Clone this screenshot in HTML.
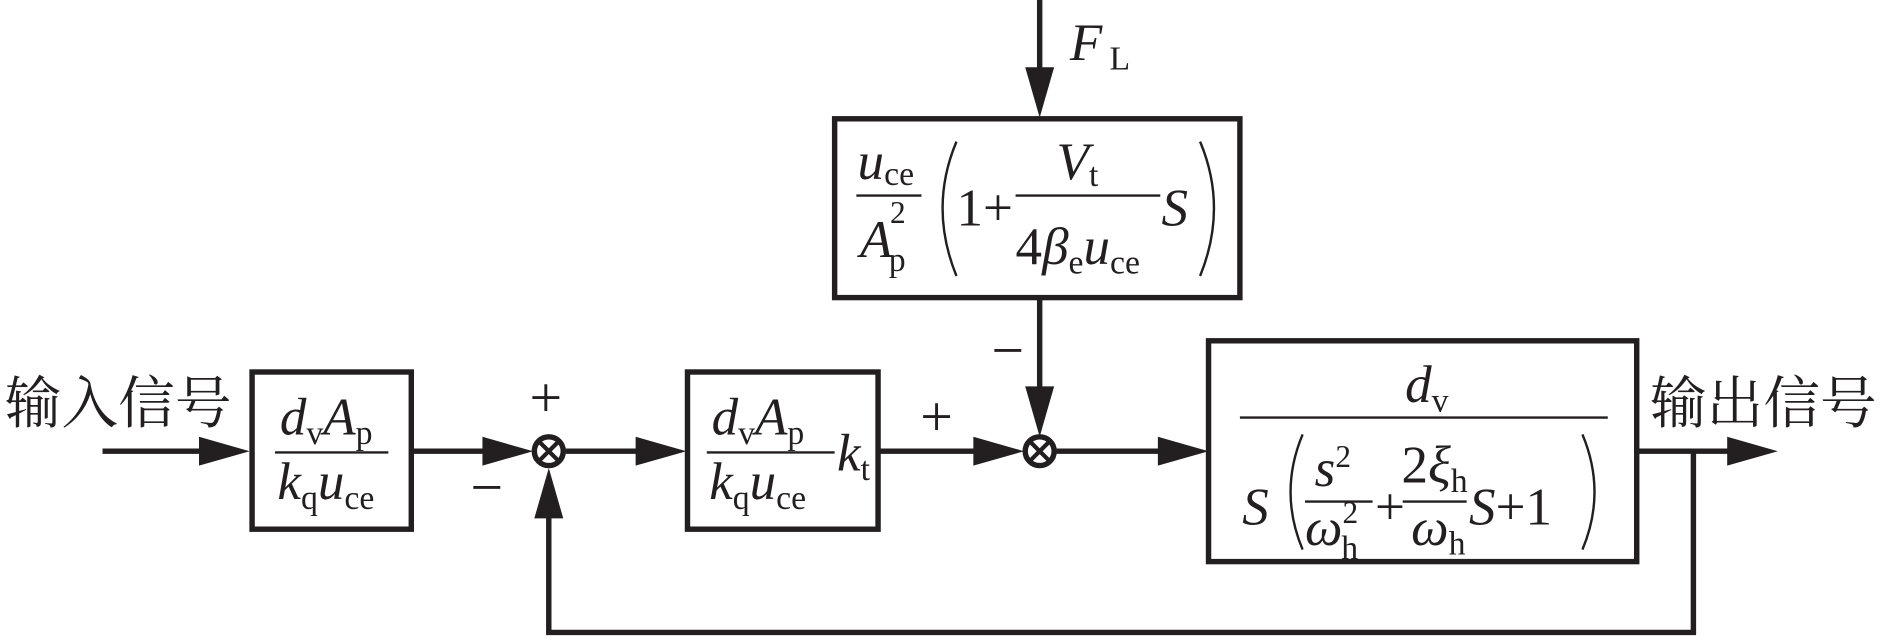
<!DOCTYPE html>
<html><head><meta charset="utf-8"><style>
html,body{margin:0;padding:0;background:#fff;}
svg{display:block}
text{font-family:"Liberation Serif","Noto Serif CJK SC",serif;fill:#231f20}
.i{font-style:italic}
.cn{font-family:"Liberation Serif","Noto Serif CJK SC",serif;font-size:47px}
</style></head><body>
<svg width="1890" height="642" viewBox="0 0 1567 535" preserveAspectRatio="none" xmlns="http://www.w3.org/2000/svg">
<g stroke="#231f20" stroke-width="4.5" fill="none">
<rect x="209" y="310" width="132" height="131"/>
<rect x="570" y="310" width="158" height="131"/>
<rect x="692" y="99" width="336" height="149"/>
<rect x="1002" y="284" width="355" height="184"/>
<line x1="85" y1="376" x2="190" y2="376"/>
<line x1="341" y1="376" x2="425" y2="376"/>
<line x1="469" y1="376" x2="552" y2="376"/>
<line x1="728" y1="376" x2="832" y2="376"/>
<line x1="876" y1="376" x2="985" y2="376"/>
<line x1="1357" y1="376" x2="1440" y2="376"/>
<line x1="862" y1="0" x2="862" y2="80"/>
<line x1="862" y1="248" x2="862" y2="345"/>
<polyline points="1404,376 1404,527 455,527 455,408"/>
<circle cx="455" cy="376" r="12"/>
<circle cx="862" cy="376" r="12"/>
<line x1="447" y1="368" x2="463" y2="384" stroke-width="3.5"/>
<line x1="463" y1="368" x2="447" y2="384" stroke-width="3.5"/>
<line x1="854" y1="368" x2="870" y2="384" stroke-width="3.5"/>
<line x1="870" y1="368" x2="854" y2="384" stroke-width="3.5"/>
<g stroke-width="2">
<line x1="228" y1="377" x2="322" y2="377"/>
<line x1="586" y1="377" x2="692" y2="377"/>
<line x1="710" y1="163" x2="764" y2="163"/>
<line x1="842" y1="163" x2="962" y2="163"/>
<line x1="1028" y1="348" x2="1333" y2="348"/>
<line x1="1082" y1="418" x2="1138" y2="418"/>
<line x1="1163" y1="418" x2="1216" y2="418"/>
<path d="M793 118 Q770 173 793 230"/>
<path d="M995 118 Q1018 173 995 230"/>
<path d="M1080 362 Q1060 410 1080 458"/>
<path d="M1312 362 Q1332 410 1312 458"/>
</g>
</g>
<g fill="#231f20">
<polygon points="165,364 207,376 165,388"/>
<polygon points="400,364 442,376 400,388"/>
<polygon points="527,364 569,376 527,388"/>
<polygon points="807,364 849,376 807,388"/>
<polygon points="960,364 1002,376 960,388"/>
<polygon points="1432,364 1474,376 1432,388"/>
<polygon points="850,56 862,98 874,56"/>
<polygon points="850,322 862,364 874,322"/>
<polygon points="443,432 455,390 467,432"/>
</g>
<text class="cn" x="4" y="352">输入信号</text>
<text class="cn" x="1368" y="352">输出信号</text>
<g font-size="48">
<text x="439" y="347">+</text>
<text x="390" y="422">−</text>
<text x="763" y="363">+</text>
<text x="822" y="308">−</text>
</g>
<g font-size="44">
<text x="887" y="50"><tspan class="i">F</tspan><tspan font-size="28" dx="6" dy="8">L</tspan></text>
<text x="232" y="362"><tspan class="i">d</tspan><tspan font-size="28" dy="8">v</tspan><tspan class="i" dy="-8">A</tspan><tspan font-size="28" dy="8">p</tspan></text>
<text x="230" y="416"><tspan class="i">k</tspan><tspan font-size="28" dy="8">q</tspan><tspan class="i" dy="-8">u</tspan><tspan font-size="28" dy="8">ce</tspan></text>
<text x="590" y="362"><tspan class="i">d</tspan><tspan font-size="28" dy="8">v</tspan><tspan class="i" dy="-8">A</tspan><tspan font-size="28" dy="8">p</tspan></text>
<text x="588" y="416"><tspan class="i">k</tspan><tspan font-size="28" dy="8">q</tspan><tspan class="i" dy="-8">u</tspan><tspan font-size="28" dy="8">ce</tspan></text>
<text x="694" y="392"><tspan class="i">k</tspan><tspan font-size="28" dy="8">t</tspan></text>
<text x="711" y="149"><tspan class="i">u</tspan><tspan font-size="28" dy="5">ce</tspan></text>
<text x="713" y="214"><tspan class="i">A</tspan><tspan font-size="26" dx="-2" dy="-28">2</tspan><tspan font-size="28" dx="-14" dy="40">p</tspan></text>
<text x="793" y="188">1+</text>
<text x="876" y="149"><tspan class="i">V</tspan><tspan font-size="28" dy="6">t</tspan></text>
<text x="842" y="220">4<tspan class="i">β</tspan><tspan font-size="28" dy="8">e</tspan><tspan class="i" dy="-8">u</tspan><tspan font-size="28" dy="8">ce</tspan></text>
<text x="963" y="188" class="i">S</text>
<text x="1165" y="335"><tspan class="i">d</tspan><tspan font-size="28" dy="8">v</tspan></text>
<text x="1030" y="437" class="i">S</text>
<text x="1090" y="405"><tspan class="i">s</tspan><tspan font-size="26" dy="-16">2</tspan></text>
<text x="1082" y="454"><tspan class="i">ω</tspan><tspan font-size="26" dy="-18">2</tspan><tspan font-size="28" dx="-14" dy="30">h</tspan></text>
<text x="1140" y="437">+</text>
<text x="1162" y="402">2<tspan class="i">ξ</tspan><tspan font-size="28" dy="8">h</tspan></text>
<text x="1170" y="454"><tspan class="i">ω</tspan><tspan font-size="28" dy="8">h</tspan></text>
<text x="1218" y="437"><tspan class="i">S</tspan>+1</text>
</g>
</svg>
</body></html>
